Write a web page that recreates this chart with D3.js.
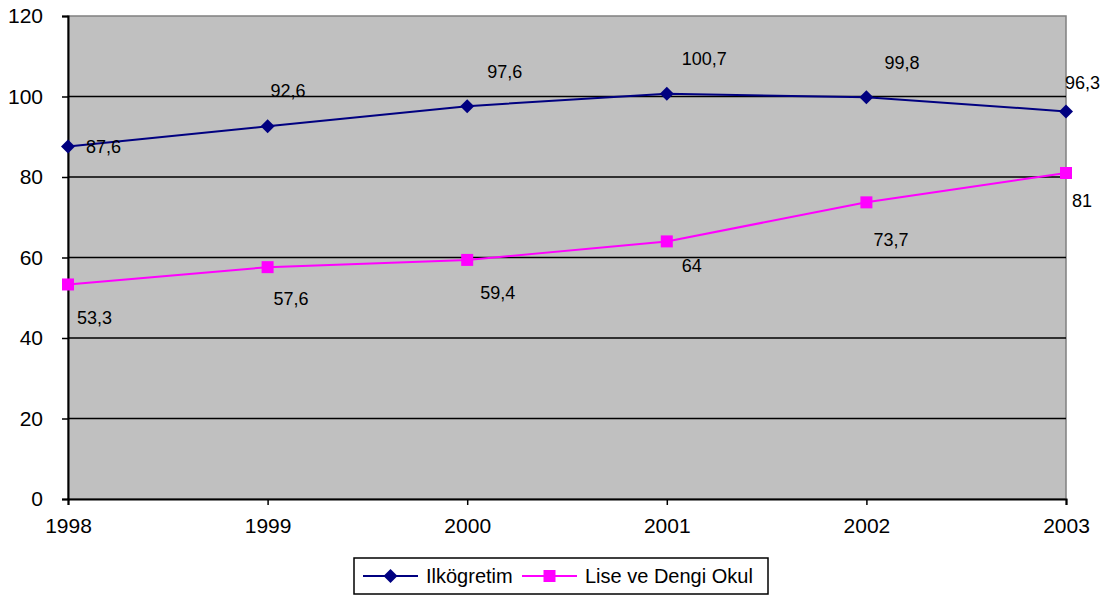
<!DOCTYPE html>
<html>
<head>
<meta charset="utf-8">
<script src="https://cdn.jsdelivr.net/npm/d3@7"></script>
<style>
  html, body { margin: 0; padding: 0; background: #fff; }
  svg { display: block; font-family: Arial, "Liberation Sans", sans-serif; }
</style>
</head>
<body>
<svg id="chart" width="1112" height="595"></svg>
<script>
// ---- data ----
const years = ["1998", "1999", "2000", "2001", "2002", "2003"];
const ilkogretim = [87.6, 92.6, 97.6, 100.7, 99.8, 96.3];
const lise = [53.3, 57.6, 59.4, 64, 73.7, 81];
const yTicks = [0, 20, 40, 60, 80, 100, 120];
const seriesNames = ["Ilkögretim", "Lise ve Dengi Okul"];

// ---- label placement (layout only) ----
const ilkLabelOffsets = [[18, 0], [3, -36], [20, -34], [15, -35], [18, -35], [-1, -29]];
const liseLabelOffsets = [[9, 33], [6, 32], [13, 33], [15, 24], [7, 37], [6, 28]];

(function () {
const svg = d3.select("#chart");
const pLeft = 68, pRight = 1066, pTop = 16, pBottom = 499;

const x = d3.scalePoint().domain(years).range([pLeft, pRight]);
const y = d3.scaleLinear().domain([0, 120]).range([pBottom, pTop]);

// plot background
svg.append("rect")
  .attr("x", pLeft).attr("y", pTop)
  .attr("width", pRight - pLeft).attr("height", pBottom - pTop)
  .attr("fill", "#c0c0c0")
  .attr("stroke", "#808080").attr("stroke-width", 1.5);

// gridlines
svg.append("g").selectAll("line")
  .data(yTicks.filter(d => d > 0 && d < 120))
  .join("line")
  .attr("x1", pLeft).attr("x2", pRight)
  .attr("y1", d => y(d)).attr("y2", d => y(d))
  .attr("stroke", "#000").attr("stroke-width", 1.5);

// y axis
const yAxis = svg.append("g")
  .attr("transform", `translate(${pLeft},0)`)
  .call(d3.axisLeft(y).tickValues(yTicks).tickSize(6).tickPadding(19));
yAxis.select(".domain").attr("stroke", "#000").attr("stroke-width", 2);
yAxis.selectAll(".tick line").attr("stroke", "#000").attr("stroke-width", 1.5);
yAxis.selectAll(".tick text").attr("font-size", 21).attr("fill", "#000")
  .attr("font-family", "Arial, 'Liberation Sans', sans-serif");

// x axis
const xAxis = svg.append("g")
  .attr("transform", `translate(0,${pBottom})`)
  .call(d3.axisBottom(x).tickSize(6).tickPadding(13));
xAxis.select(".domain").attr("stroke", "#000").attr("stroke-width", 2);
xAxis.selectAll(".tick line").attr("stroke", "#000").attr("stroke-width", 1.5);
xAxis.selectAll(".tick text").attr("font-size", 21).attr("fill", "#000")
  .attr("font-family", "Arial, 'Liberation Sans', sans-serif");

const line = d3.line().x((d, i) => x(years[i])).y(d => y(d));

function markerPath(shape) {
  return d3.symbol().type(d3.symbolSquare).size(shape === "diamond" ? 98 : 144)();
}
function markerRot(shape) { return shape === "diamond" ? " rotate(45)" : ""; }

function drawSeries(values, color, shape, offsets) {
  const g = svg.append("g");
  g.append("path").datum(values)
    .attr("d", line).attr("fill", "none")
    .attr("stroke", color).attr("stroke-width", 2);
  g.selectAll("path.m").data(values).join("path")
    .attr("class", "m")
    .attr("d", markerPath(shape))
    .attr("transform", (d, i) => `translate(${x(years[i])},${y(d)})` + markerRot(shape))
    .attr("fill", color);
  g.selectAll("text").data(values).join("text")
    .attr("x", (d, i) => x(years[i]) + offsets[i][0])
    .attr("y", (d, i) => y(d) + offsets[i][1])
    .attr("dy", "0.35em")
    .attr("font-size", 18).attr("fill", "#000")
    .text(d => String(d).replace(".", ","));
}

drawSeries(ilkogretim, "#000080", "diamond", ilkLabelOffsets);
drawSeries(lise, "#ff00ff", "square", liseLabelOffsets);

// legend
const lg = svg.append("g");
lg.append("rect").attr("x", 354).attr("y", 558).attr("width", 414).attr("height", 36)
  .attr("fill", "#fff").attr("stroke", "#000").attr("stroke-width", 1.5);
const legendItems = [
  { name: seriesNames[0], color: "#000080", shape: "diamond", x0: 363 },
  { name: seriesNames[1], color: "#ff00ff", shape: "square", x0: 522 }
];
const ly = 576;
legendItems.forEach(it => {
  lg.append("line").attr("x1", it.x0).attr("x2", it.x0 + 55)
    .attr("y1", ly).attr("y2", ly).attr("stroke", it.color).attr("stroke-width", 2);
  lg.append("path")
    .attr("d", markerPath(it.shape))
    .attr("transform", `translate(${it.x0 + 27.5},${ly})` + markerRot(it.shape))
    .attr("fill", it.color);
  lg.append("text").attr("x", it.x0 + 63).attr("y", ly).attr("dy", "0.35em")
    .attr("font-size", 20).attr("fill", "#000").text(it.name);
});
})();
</script>
</body>
</html>
